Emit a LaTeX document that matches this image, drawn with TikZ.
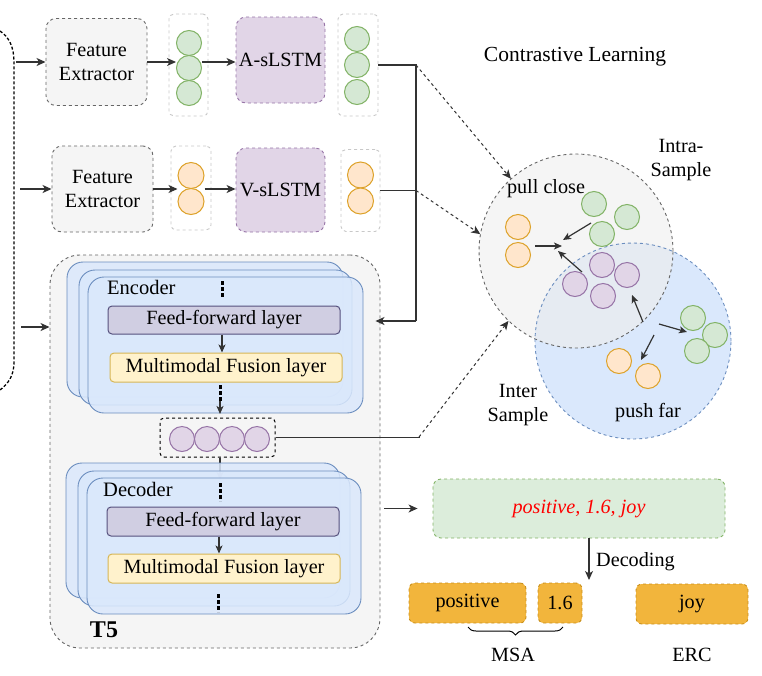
\documentclass[tikz,border=0pt]{standalone}
\usepackage{fontspec}
\setmainfont{Liberation Serif}
\usetikzlibrary{arrows.meta,decorations.pathreplacing,calc}
\newcommand{\myfs}{\fontsize{20.2pt}{24pt}\selectfont}
\definecolor{cgrayf}{HTML}{F5F5F5}
\definecolor{cgrayd}{HTML}{666666}
\definecolor{ccol}{HTML}{C8C8C8}
\definecolor{cgreenf}{HTML}{D5E8D4}
\definecolor{cgreend}{HTML}{82B366}
\definecolor{corgf}{HTML}{FFE6CC}
\definecolor{corgd}{HTML}{DDA22A}
\definecolor{cpurf}{HTML}{E1D5E7}
\definecolor{cpurd}{HTML}{9673A6}
\definecolor{cbluef}{HTML}{DAE8FC}
\definecolor{cblued}{HTML}{6C8EBF}
\definecolor{cfff}{HTML}{D0CEE2}
\definecolor{cffd}{HTML}{56517E}
\definecolor{cmff}{HTML}{FFF2CC}
\definecolor{cmfd}{HTML}{D6B656}
\definecolor{cboxf}{HTML}{F2B53C}
\definecolor{cboxd}{HTML}{C98F1A}
\definecolor{carr}{HTML}{333333}
\definecolor{cmix}{HTML}{E6EBF2}
\definecolor{coutf}{HTML}{DCEDDB}
\definecolor{cred}{HTML}{FF0000}
\tikzset{
 febox/.style={draw=cgrayd, fill=cgrayf, rounded corners=10pt, dash pattern=on 3pt off 3pt, line width=0.9pt, align=center, inner sep=0pt},
 colbox/.style={draw=ccol, fill=white, rounded corners=5pt, dash pattern=on 3pt off 3pt, line width=0.9pt, inner sep=0pt},
 gcirc/.style={circle, draw=cgreend, fill=cgreenf, line width=1pt, minimum size=25pt, inner sep=0pt},
 ocirc/.style={circle, draw=corgd, fill=corgf, line width=1pt, minimum size=25pt, inner sep=0pt},
 pcirc/.style={circle, draw=cpurd, fill=cpurf, line width=1pt, minimum size=25pt, inner sep=0pt},
 lstmbox/.style={draw=cpurd, fill=cpurf, rounded corners=10pt, dash pattern=on 3pt off 3pt, line width=0.9pt, inner sep=0pt},
 t5box/.style={draw=cgrayd, fill=cgrayf, rounded corners=30pt, dash pattern=on 3pt off 3pt, line width=0.9pt, inner sep=0pt},
 stackbox/.style={draw=cblued, fill=cbluef, rounded corners=16pt, line width=0.9pt, fill opacity=0.85, inner sep=0pt},
 fflayer/.style={draw=cffd, fill=cfff, rounded corners=4pt, line width=1pt, inner sep=0pt},
 mflayer/.style={draw=cmfd, fill=cmff, rounded corners=4pt, line width=1pt, inner sep=0pt},
 embbox/.style={draw=black, fill=cgrayf, rounded corners=4pt, dash pattern=on 3pt off 3pt, line width=1pt, inner sep=0pt},
 outbox/.style={draw=cgreend, fill=coutf, rounded corners=8pt, dash pattern=on 3pt off 3pt, line width=0.9pt, inner sep=0pt},
 resbox/.style={draw=cboxd, fill=cboxf, rounded corners=6pt, dash pattern=on 3pt off 3pt, line width=0.9pt, inner sep=0pt},
 arr/.style={draw=carr, line width=1.2pt, -{Stealth[length=9pt,width=8pt,inset=2.5pt]}},
 sarr/.style={draw=carr, line width=1.2pt, -{Stealth[length=8pt,width=7pt,inset=2pt]}},
 conn/.style={draw=carr, line width=1.1pt},
 dasharr/.style={draw=carr, line width=1pt, dash pattern=on 3pt off 3pt, -{Stealth[length=9pt,width=8pt,inset=2.5pt]}},
 vdotline/.style={draw=black, line width=3pt, dash pattern=on 3.5pt off 2.5pt},
 leftdash/.style={draw=black, line width=1.3pt, dash pattern=on 3pt off 2pt},
 lbl/.style={inner sep=0pt, align=center}
}
\begin{document}
\begin{tikzpicture}[x=1pt, y=-1pt, font=\myfs]
\useasboundingbox (0,0) rectangle (762,675);

% left bracket
\draw[leftdash] (0,31) .. controls (9,37) and (14,47) .. (14,62) -- (14,362) .. controls (14,375) and (9,383) .. (0,390);
\coordinate (in1) at (16,62);
\coordinate (in2) at (20,189);
\coordinate (in3) at (21,327);

% row 1
\node[febox, minimum width=101pt, minimum height=87pt] (fe1) at (96.5,62) {Feature\\Extractor};
\node[colbox, minimum width=39pt, minimum height=102pt] (g1box) at (188.5,65) {};
\node[gcirc] (g1a) at (189,43) {};
\node[gcirc] (g1b) at (189,68) {};
\node[gcirc] (g1c) at (189,93) {};
\node[lstmbox, minimum width=89pt, minimum height=86pt] (alstm) at (280.5,60) {A-sLSTM};
\node[colbox, minimum width=40pt, minimum height=102pt] (g2box) at (358,65) {};
\node[gcirc] (g2a) at (357,39) {};
\node[gcirc] (g2b) at (357,65) {};
\node[gcirc] (g2c) at (357,92) {};
\draw[arr] (in1) -- (fe1.west);
\draw[arr] (fe1.east) -- (g1b.west |- fe1.east);
\draw[arr] (g1b.east |- fe1.east) -- (alstm.west |- fe1.east);

% row 2
\node[febox, minimum width=101pt, minimum height=86pt] (fe2) at (102.5,189) {Feature\\Extractor};
\node[colbox, minimum width=40pt, minimum height=84pt] (o1box) at (191,188) {};
\node[ocirc, minimum size=26pt] (o1a) at (191,175.5) {};
\node[ocirc, minimum size=26pt] (o1b) at (191,201.5) {};
\node[lstmbox, minimum width=89pt, minimum height=84pt] (vlstm) at (280.5,190) {V-sLSTM};
\node[colbox, minimum width=39pt, minimum height=82pt] (o2box) at (360.5,190.5) {};
\node[ocirc, minimum size=26pt] (o2a) at (360.5,175) {};
\node[ocirc, minimum size=26pt] (o2b) at (360.5,201) {};
\draw[arr] (in2) -- (fe2.west);
\draw[arr] (fe2.east) -- (o1a.west |- fe2.east);
\draw[arr] (o1a.east |- fe2.east) -- (vlstm.west |- fe2.east);

% T5
\node[t5box, minimum width=330pt, minimum height=393pt] (t5) at (215,451.5) {};
\node[inner sep=0pt, font=\fontsize{24pt}{28pt}\selectfont\bfseries] (t5lbl) at (104,630) {T5};
\draw[arr] (in3) -- (t5.west |- in3);

% encoder
\node[stackbox, minimum width=276pt, minimum height=135pt] (encA) at (205,329.5) {};
\node[stackbox, minimum width=273pt, minimum height=135pt] (encB) at (215.5,337.5) {};
\node[stackbox, minimum width=275pt, minimum height=136pt] (encC) at (225.5,345) {};
\node[inner sep=0pt, anchor=west, font=\fontsize{20.5pt}{24pt}\selectfont] (enclbl) at (107,287) {Encoder};
\draw[vdotline] (222,281) -- (222,299);
\node[fflayer, minimum width=232pt, minimum height=28pt] (ff1) at (224,320) {Feed-forward layer};
\node[mflayer, minimum width=232pt, minimum height=29pt] (mf1) at (226,367.5) {Multimodal Fusion layer};
\draw[sarr] (ff1.south -| 222,0) -- (mf1.north -| 222,0);
\draw[vdotline] (220,385) -- (220,403);
\draw[sarr] (220,401) -- (220,414);

% embedding
\node[embbox, minimum width=115pt, minimum height=39pt] (emb) at (217.5,437.5) {};
\node[pcirc] (e1) at (182,439) {};
\node[pcirc] (e2) at (207,439) {};
\node[pcirc] (e3) at (232,439) {};
\node[pcirc] (e4) at (257,439) {};
\draw[sarr] (emb.south -| 220,0) -- (220,480);

% decoder
\node[stackbox, minimum width=274pt, minimum height=135pt] (decA) at (203,530.5) {};
\node[stackbox, minimum width=272pt, minimum height=135pt] (decB) at (214,538.5) {};
\node[stackbox, minimum width=274pt, minimum height=136pt] (decC) at (224,546) {};
\node[inner sep=0pt, anchor=west, font=\fontsize{20.5pt}{24pt}\selectfont] (declbl) at (103,489) {Decoder};
\draw[vdotline] (220,483) -- (220,501);
\node[fflayer, minimum width=232pt, minimum height=29pt] (ff2) at (223,521.5) {Feed-forward layer};
\node[mflayer, minimum width=232pt, minimum height=29pt] (mf2) at (224,568.5) {Multimodal Fusion layer};
\draw[sarr] (ff2.south -| 219,0) -- (mf2.north -| 219,0);
\draw[vdotline] (218,594) -- (218,612);

% contrastive learning
\node[lbl, font=\fontsize{21.5pt}{25pt}\selectfont] (cl) at (575,57) {Contrastive Learning};
\node[circle, minimum size=194pt, inner sep=0pt, fill=cgrayf] (intra) at (576,251) {};
\node[circle, minimum size=196pt, inner sep=0pt, fill=cbluef] (inter) at (633,341) {};
\begin{scope}
\clip (576,251) circle (97pt);
\fill[cmix] (633,341) circle (98pt);
\end{scope}
\draw[draw=cgrayd, line width=0.9pt, dash pattern=on 3pt off 3pt] (576,251) circle (97pt);
\draw[draw=cblued, line width=0.9pt, dash pattern=on 3pt off 3pt] (633,341) circle (98pt);

\node[lbl] (intralbl) at (681,160) {Intra-\\Sample};
\node[lbl] (interlbl) at (518,405) {Inter\\Sample};
\node[lbl] (pull) at (546,189) {pull close};
\node[lbl] (push) at (648,413) {push far};

\node[ocirc] (co1) at (518,227) {};
\node[ocirc] (co2) at (518,255) {};
\node[gcirc] (cg1) at (594,204) {};
\node[gcirc] (cg2) at (627,217) {};
\node[gcirc] (cg3) at (602,234) {};
\node[pcirc] (cp1) at (602,265) {};
\node[pcirc] (cp2) at (627,275) {};
\node[pcirc] (cp3) at (575,284) {};
\node[pcirc] (cp4) at (603,296) {};
\node[gcirc] (cg4) at (693,318) {};
\node[gcirc] (cg5) at (715,335) {};
\node[gcirc] (cg6) at (697,351) {};
\node[ocirc] (co3) at (619,361) {};
\node[ocirc] (co4) at (648,376) {};

\coordinate (pc) at (562,246);
\coordinate (pa) at (535,246);
\coordinate (pb) at (591,223);
\coordinate (pd) at (582,272);
\coordinate (qa) at (643,322);
\coordinate (qb) at (659,324);
\coordinate (qc) at (654,335);
\draw[sarr] (pa) -- (pc);
\draw[sarr] (pb) -- (563,240);
\draw[sarr] (pd) -- (558,251);
\draw[sarr] (qa) -- (632,295);
\draw[sarr] (qb) -- (687,332);
\draw[sarr] (qc) -- (641,360);

% connectors to contrastive / T5
\coordinate (j1) at (416,65);
\coordinate (j2) at (416,190.5);
\coordinate (j3) at (416,321);
\draw[conn] (g2box.east) -- (j1) -- (j3);
\draw[conn] (o2box.east) -- (j2);
\draw[arr, shorten >=-5pt] (j3) -- (t5.east |- j3);
\draw[dasharr] (j1) -- (intra.132);
\draw[dasharr] (j2) -- (intra.170);
\coordinate (k) at (419,437);
\draw[conn] (emb.east) -- (emb.east -| k) -- (k);
\draw[dasharr] (k) -- (intra.226);

% output
\node[outbox, minimum width=292pt, minimum height=59pt, text=cred, font=\myfs\itshape] (out) at (579,508.5) {positive, 1.6, joy};
\draw[arr, shorten <=4pt, shorten >=15pt] (t5.east |- out.west) -- (out.west);
\coordinate (dectop) at (589,538);
\coordinate (decend) at (589,580);
\draw[arr] (dectop) -- (decend);
\node[inner sep=0pt, anchor=west] (declab) at (596,562) {Decoding};

\node[resbox, minimum width=117pt, minimum height=40pt] (rpos) at (467.5,603) {positive};
\node[resbox, minimum width=44pt, minimum height=40pt] (rnum) at (560,603) {1.6};
\node[resbox, minimum width=112pt, minimum height=40pt] (rjoy) at (692,604) {joy};
\draw[decorate, decoration={brace, mirror, amplitude=8pt}, line width=1pt] (468,627) -- (563,627);
\node[lbl] (msa) at (513,655) {MSA};
\node[lbl] (erc) at (692,655) {ERC};
\end{tikzpicture}
\end{document}
